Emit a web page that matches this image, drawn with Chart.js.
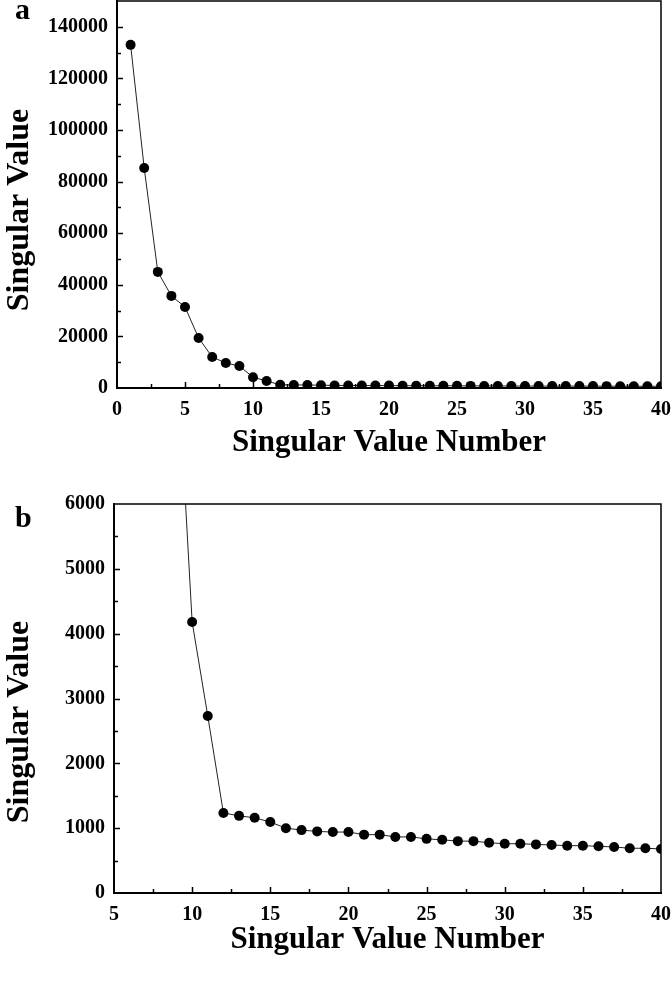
<!DOCTYPE html>
<html>
<head>
<meta charset="utf-8">
<script src="https://cdn.jsdelivr.net/npm/chart.js@4.4.1/dist/chart.umd.min.js"></script>
<style>
  html, body { margin: 0; padding: 0; background: #fff; }
  .panel { position: relative; width: 671px; }
  #panelA { height: 490px; }
  #panelB { height: 491px; }
</style>
</head>
<body>
<div class="panel" id="panelA"><canvas id="chartA"></canvas></div>
<div class="panel" id="panelB"><canvas id="chartB"></canvas></div>
<script>
// singular value index 1..40 and its value
const svNumber = [1, 2, 3, 4, 5, 6, 7, 8, 9, 10,
  11, 12, 13, 14, 15, 16, 17, 18, 19, 20,
  21, 22, 23, 24, 25, 26, 27, 28, 29, 30,
  31, 32, 33, 34, 35, 36, 37, 38, 39, 40];
const svValue = [133000, 85300, 45000, 35700, 31400, 19400, 12000, 9700, 8500, 4180,
  2730, 1235, 1190, 1160, 1095, 1000, 970, 950, 940, 940,
  900, 900, 865, 865, 835, 820, 800, 800, 775, 760,
  760, 750, 740, 730, 730, 720, 710, 690, 690, 680];

// tick labels
const yTicksA = [0, 20000, 40000, 60000, 80000, 100000, 120000, 140000];
const yTicksB = [0, 1000, 2000, 3000, 4000, 5000, 6000];
const xTicksA = [0, 5, 10, 15, 20, 25, 30, 35, 40];
const xTicksB = [5, 10, 15, 20, 25, 30, 35, 40];

const xTitle = 'Singular Value Number';
const yTitle = 'Singular Value';

const serif = "'Liberation Serif', 'Times New Roman', serif";

// closes the box and puts the small tick marks inside the plot
const frameTicks = {
  id: 'frameTicks',
  afterDatasetsDraw(chart, args, opts) {
    const { ctx, chartArea: a, scales: { x, y } } = chart;
    ctx.save();
    ctx.strokeStyle = '#000';
    ctx.lineWidth = 1.5;
    ctx.beginPath();
    ctx.moveTo(a.left, a.top);
    ctx.lineTo(a.right, a.top);
    ctx.lineTo(a.right, a.bottom);
    ctx.stroke();

    ctx.beginPath();
    const nx = Math.round((x.max - x.min) / opts.xMinor);
    for (let i = 1; i < nx; i++) {
      const px = Math.round(x.getPixelForValue(x.min + i * opts.xMinor)) + 0.5;
      const len = i % 2 === 0 ? 6 : 4;
      ctx.moveTo(px, a.bottom);
      ctx.lineTo(px, a.bottom - len);
    }
    const ny = Math.round((y.max - y.min) / opts.yMinor);
    for (let i = 1; i < ny; i++) {
      const v = y.min + i * opts.yMinor;
      const py = Math.round(y.getPixelForValue(v)) + 0.5;
      const len = v % opts.yMajor === 0 ? 6 : 4;
      ctx.moveTo(a.left, py);
      ctx.lineTo(a.left + len, py);
    }
    ctx.stroke();
    ctx.restore();
  },
  afterDraw(chart, args, opts) {
    const { ctx } = chart;
    ctx.save();
    ctx.fillStyle = '#000';
    // panel letter
    ctx.font = 'bold 30px ' + serif;
    ctx.textAlign = 'left';
    ctx.textBaseline = 'alphabetic';
    ctx.fillText(opts.letter, 15, opts.letterY);
    // vertical axis title
    ctx.translate(20, opts.yTitleY);
    ctx.rotate(-Math.PI / 2);
    ctx.font = 'bold 32px ' + serif;
    ctx.textAlign = 'center';
    ctx.textBaseline = 'middle';
    ctx.fillText(yTitle, 0, 0);
    ctx.restore();
  }
};

// keep the plot box where the layout padding puts it
function noOverhang(s) {
  s.paddingTop = 0;
  s.paddingBottom = 0;
  s.paddingLeft = 0;
  s.paddingRight = 0;
}

function makeChart(id, cfg) {
  return new Chart(document.getElementById(id), {
    type: 'line',
    data: {
      datasets: [{
        data: svNumber.map((n, i) => ({ x: n, y: svValue[i] })),
        borderColor: '#222',
        borderWidth: 1,
        pointRadius: 5,
        pointBackgroundColor: '#000',
        pointBorderColor: '#000',
        pointBorderWidth: 0,
        tension: 0
      }]
    },
    options: {
      responsive: true,
      maintainAspectRatio: false,
      animation: false,
      layout: {
        autoPadding: false,
        padding: { top: cfg.padTop, right: 10, left: 0, bottom: 0 }
      },
      plugins: {
        legend: { display: false },
        tooltip: { enabled: false },
        frameTicks: {
          letter: cfg.letter,
          letterY: cfg.letterY,
          yTitleY: cfg.yTitleY,
          xMinor: 2.5,
          yMinor: cfg.yTicks[1] / 2,
          yMajor: cfg.yTicks[1]
        }
      },
      scales: {
        x: {
          type: 'linear',
          min: cfg.xTicks[0],
          max: cfg.xTicks[cfg.xTicks.length - 1],
          grid: { display: false, drawTicks: false },
          border: { display: true, color: '#000', width: 2 },
          afterBuildTicks: (s) => { s.ticks = cfg.xTicks.map(v => ({ value: v })); },
          ticks: {
            padding: 10,
            color: '#000',
            maxRotation: 0,
            autoSkip: false,
            callback: (v) => String(v),
            font: { family: serif, size: 20, weight: 'bold' }
          },
          title: {
            display: true,
            text: xTitle,
            color: '#000',
            padding: { top: 0, bottom: cfg.xTitlePad },
            font: { family: serif, size: 31, weight: 'bold' }
          },
          afterFit: (s) => { s.height = cfg.xHeight; noOverhang(s); }
        },
        y: {
          min: 0,
          max: cfg.yMax,
          grid: { display: false, drawTicks: false },
          border: { display: true, color: '#000', width: 2 },
          afterBuildTicks: (s) => { s.ticks = cfg.yTicks.map(v => ({ value: v })); },
          ticks: {
            padding: 9,
            color: '#000',
            autoSkip: false,
            callback: (v) => String(v),
            font: { family: serif, size: 20, weight: 'bold' }
          },
          afterFit: (s) => { s.width = cfg.yWidth; noOverhang(s); }
        }
      }
    },
    plugins: [frameTicks]
  });
}

makeChart('chartA', {
  letter: 'a', letterY: 19, yTitleY: 210,
  padTop: 1, yMax: 150000, yTicks: yTicksA, xTicks: xTicksA,
  xHeight: 102, yWidth: 117, xTitlePad: 28
});

makeChart('chartB', {
  letter: 'b', letterY: 37, yTitleY: 232,
  padTop: 14, yMax: 6000, yTicks: yTicksB, xTicks: xTicksB,
  xHeight: 88, yWidth: 114, xTitlePad: 22
});
</script>
</body>
</html>
